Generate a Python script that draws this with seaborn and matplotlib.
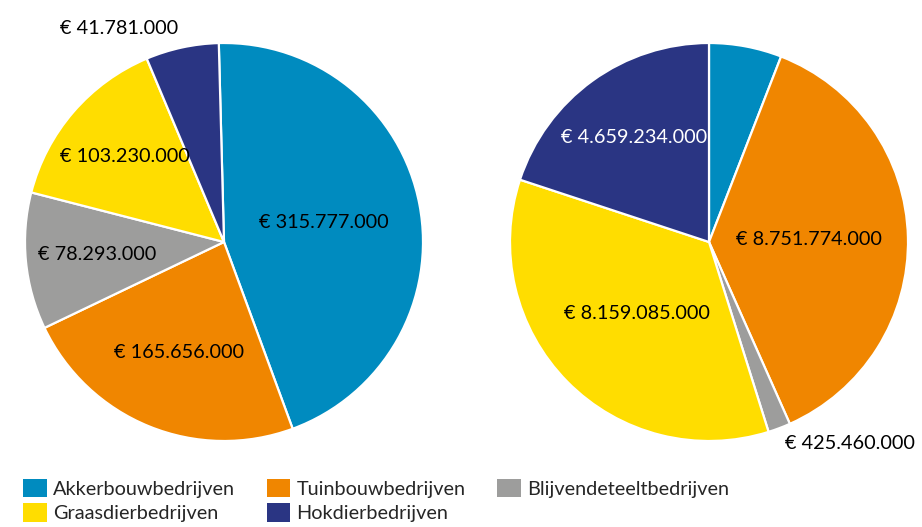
import numpy as np
import seaborn as sns
import matplotlib.pyplot as plt
from matplotlib.patches import Patch

sns.set_theme(style="white")
plt.rcParams['font.family'] = ['Lato', 'DejaVu Sans']

# data
categories = ['Akkerbouwbedrijven', 'Tuinbouwbedrijven', 'Blijvendeteeltbedrijven',
              'Graasdierbedrijven', 'Hokdierbedrijven']
left_values = [315777000, 165656000, 78293000, 103230000, 41781000]
# first slice of the right pie has no label in the picture, value estimated
right_values = [1379000000, 8751774000, 425460000, 8159085000, 4659234000]
left_labels = ['€ 315.777.000', '€ 165.656.000', '€ 78.293.000', '€ 103.230.000', '€ 41.781.000']
right_labels = ['', '€ 8.751.774.000', '€ 425.460.000', '€ 8.159.085.000', '€ 4.659.234.000']

colors = ['#008bbf', '#f08600', '#9d9d9c', '#ffdd00', '#2a3583']

# label distance (fraction of radius) and alignment per slice
left_dist = [0.51, 0.6, 0.64, 0.66, 1.1]
left_ha = ['center', 'center', 'center', 'center', 'right']
right_dist = [0.5, 0.5, 1.08, 0.51, 0.645]
right_ha = ['center', 'center', 'left', 'center', 'center']
right_tc = ['black', 'black', 'black', 'black', 'white']
left_tc = ['black', 'black', 'black', 'black', 'black']

W, H = 922, 527
fig = plt.figure(figsize=(W / 100, H / 100), dpi=100)


def draw_pie(cx, cy, r, values, labels, dist, ha, tcols, start):
    ax = fig.add_axes([(cx - r) / W, (H - cy - r) / H, 2 * r / W, 2 * r / H])
    wedges, _ = ax.pie(values, colors=colors, startangle=start, counterclock=False,
                       wedgeprops=dict(edgecolor='white', linewidth=1.6))
    for w, lab, d, h, tc in zip(wedges, labels, dist, ha, tcols):
        if not lab:
            continue
        ang = np.deg2rad((w.theta1 + w.theta2) / 2)
        ax.text(d * np.cos(ang), d * np.sin(ang), lab, ha=h, va='center',
                fontsize=14.3, color=tc)
    ax.set_xlim(-1, 1)
    ax.set_ylim(-1, 1)
    ax.set_aspect('equal')
    ax.axis('off')
    return ax


draw_pie(224, 242, 199, left_values, left_labels, left_dist, left_ha, left_tc, 91.5)
draw_pie(709, 242, 199, right_values, right_labels, right_dist, right_ha, right_tc, 90)

# legend, column-first order
order = [0, 3, 1, 4, 2]
handles = [Patch(facecolor=colors[i], edgecolor='none', label=categories[i]) for i in order]
fig.legend(handles=handles, ncol=3, loc='lower left', bbox_to_anchor=(0.012, -0.014),
           frameon=False, fontsize=14.3, handlelength=1.2, handleheight=1.05,
           handletextpad=0.3, columnspacing=1.6, labelspacing=0.3, borderaxespad=0.2)

fig.savefig('out.png', dpi=100)
